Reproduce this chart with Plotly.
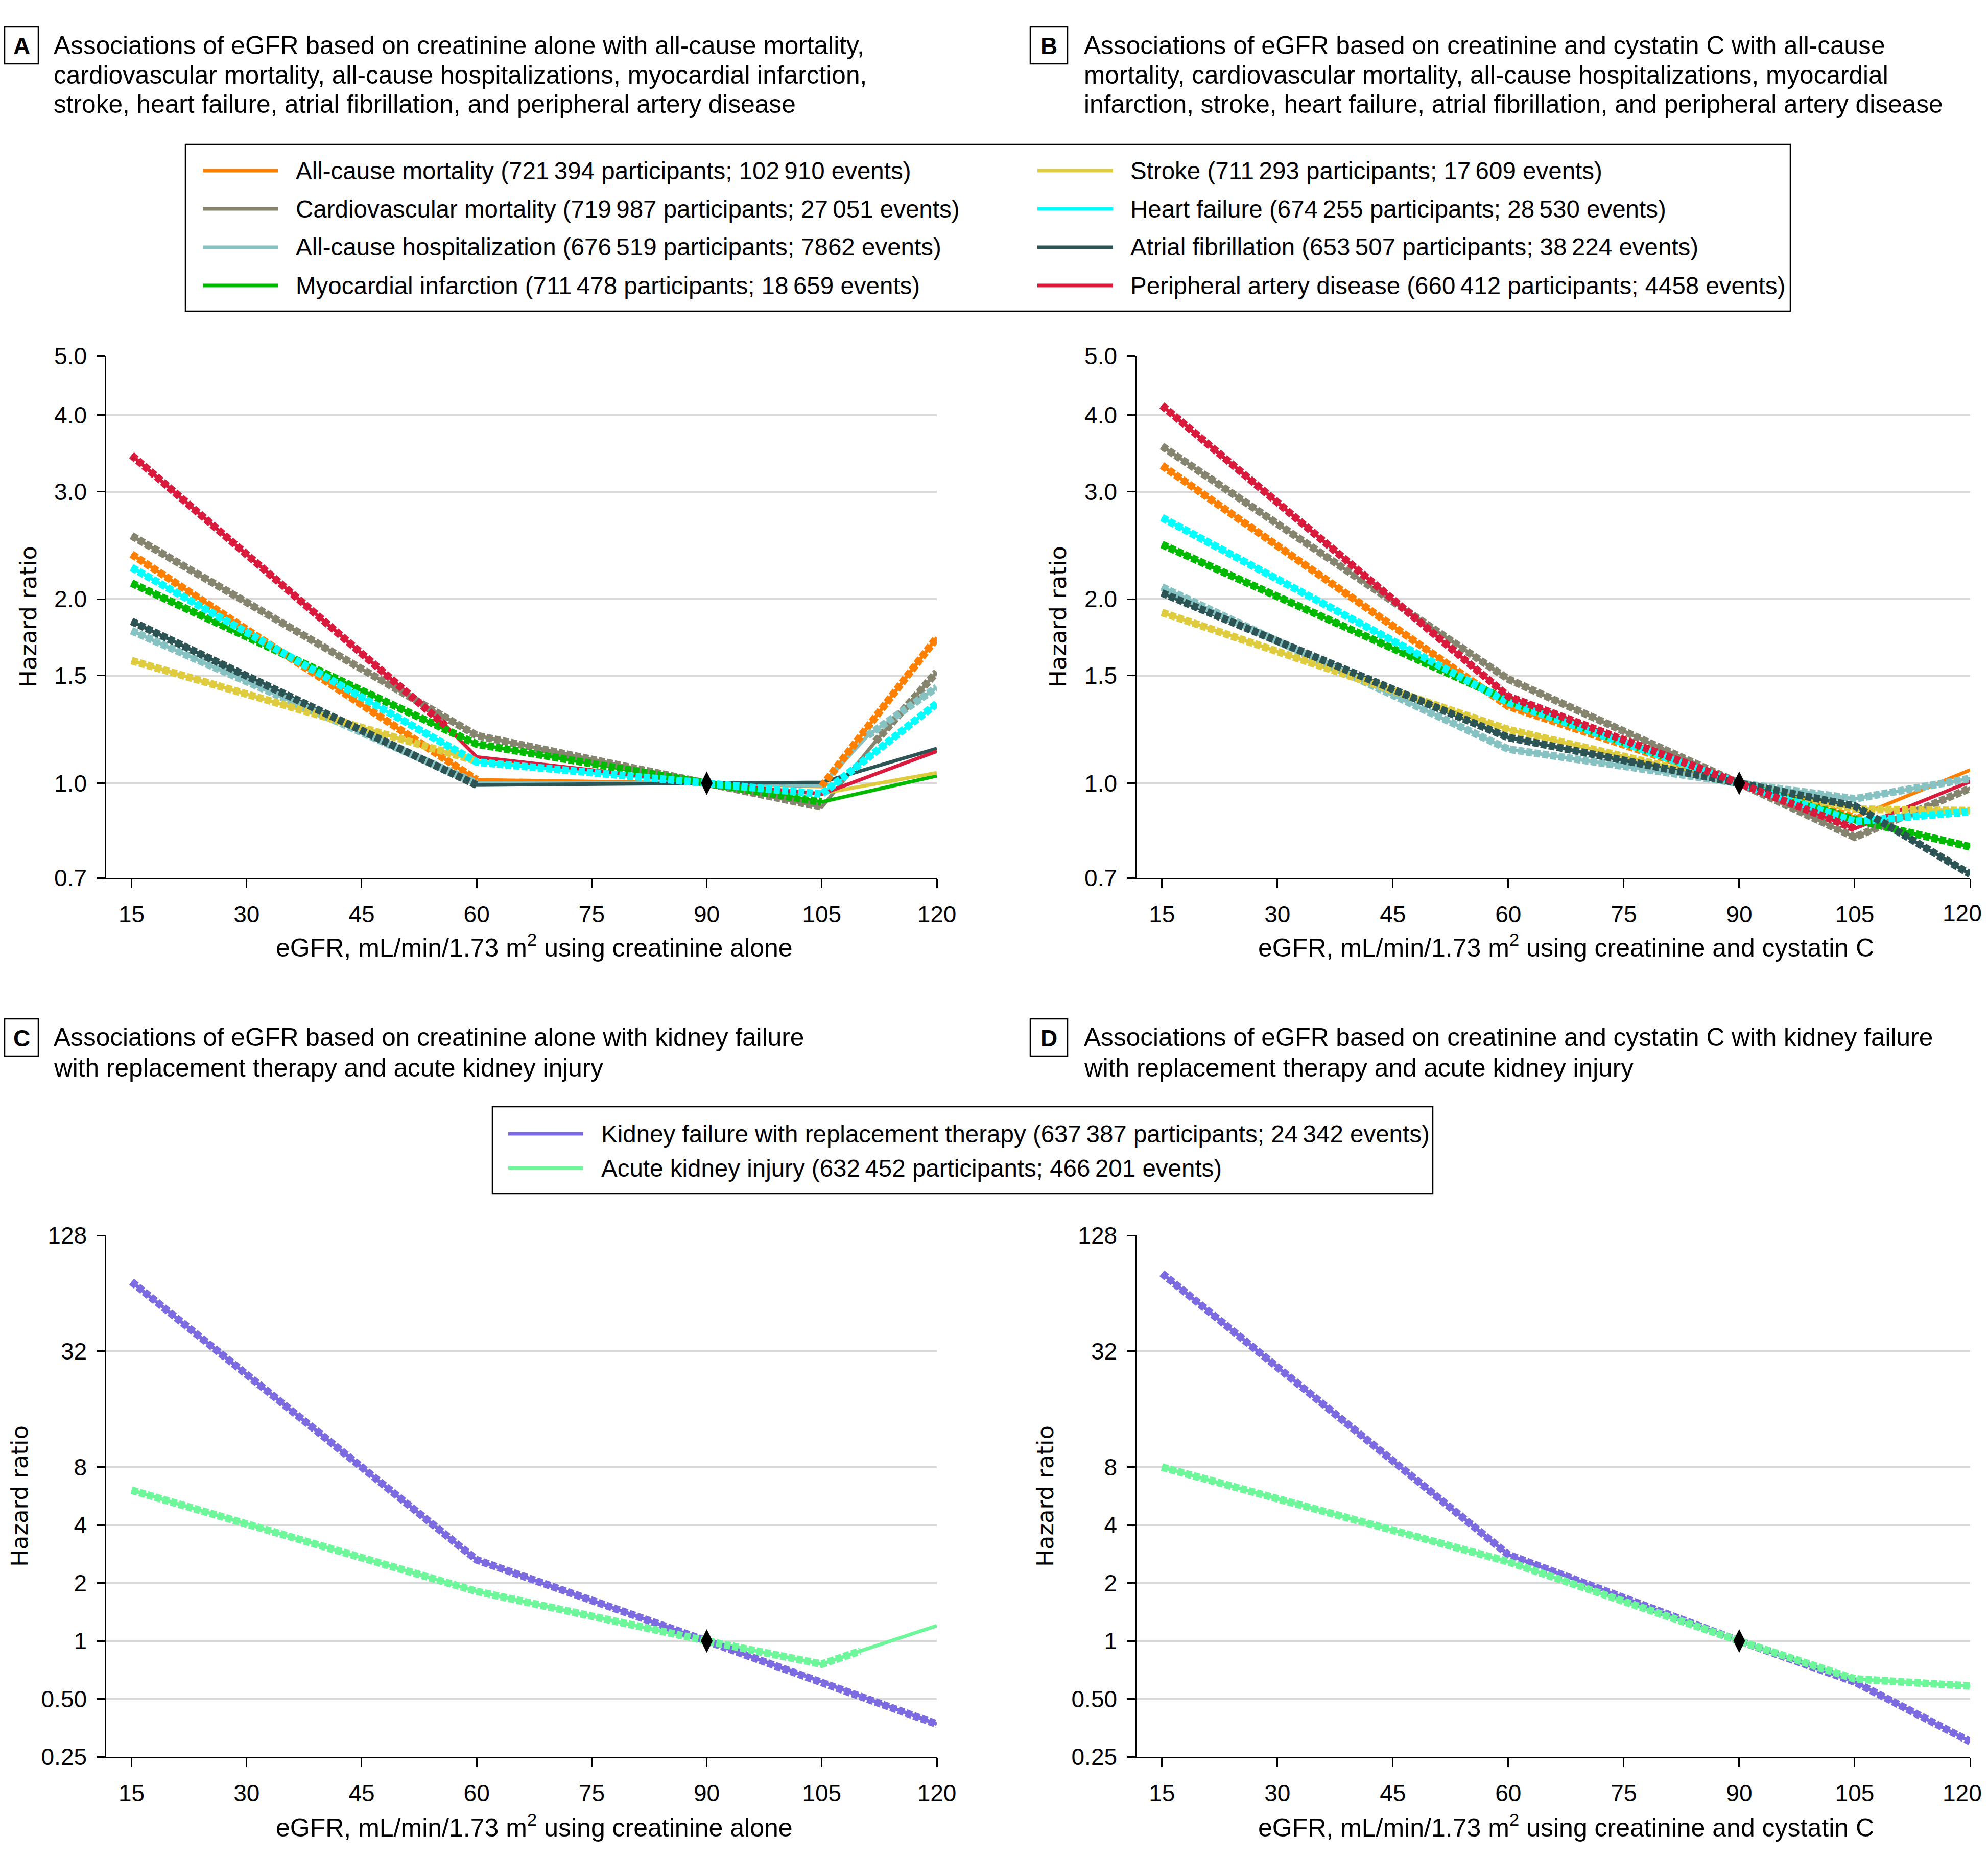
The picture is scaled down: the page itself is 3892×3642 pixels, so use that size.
import math
import plotly.graph_objects as go

# ---------------- data ----------------
EGFR_TICKS = [15, 30, 45, 60, 75, 90, 105, 120]
HR_TICKS_AB = [0.7, 1.0, 1.5, 2.0, 3.0, 4.0, 5.0]
HR_TICKTEXT_AB = ["0.7", "1.0", "1.5", "2.0", "3.0", "4.0", "5.0"]
HR_TICKS_CD = [0.25, 0.5, 1, 2, 4, 8, 32, 128]
HR_TICKTEXT_CD = ["0.25", "0.50", "1", "2", "4", "8", "32", "128"]

CV_OUTCOMES = ["All-cause mortality", "Cardiovascular mortality", "All-cause hospitalization",
               "Myocardial infarction", "Stroke", "Heart failure", "Atrial fibrillation",
               "Peripheral artery disease"]
CV_PARTICIPANTS = ["721\u2009394", "719\u2009987", "676\u2009519", "711\u2009478",
                   "711\u2009293", "674\u2009255", "653\u2009507", "660\u2009412"]
CV_EVENTS = ["102\u2009910", "27\u2009051", "7862", "18\u2009659",
             "17\u2009609", "28\u2009530", "38\u2009224", "4458"]
CV_COLORS = ["#FF8000", "#85856F", "#86C2C2", "#00BA00",
             "#DECB3E", "#00FFFF", "#2D5454", "#DA1A3C"]

KID_OUTCOMES = ["Kidney failure with replacement therapy", "Acute kidney injury"]
KID_PARTICIPANTS = ["637\u2009387", "632\u2009452"]
KID_EVENTS = ["24\u2009342", "466\u2009201"]
KID_COLORS = ["#7B6AE0", "#6EF79A"]

# Panel A: eGFR creatinine alone (x knots, hazard ratios, significance per segment)
A_ACM_X = [15, 60, 90, 105, 120]
A_ACM_Y = [2.37, 1.013, 1.0, 0.988, 1.73]
A_ACM_SIG = [1, 0, 0, 1]
A_CVM_X = [15, 60, 90, 105, 112, 120]
A_CVM_Y = [2.54, 1.197, 1.0, 0.914, 1.17, 1.52]
A_CVM_SIG = [1, 1, 1, 0, 1]
A_HOSP_X = [15, 60, 90, 105, 111, 120]
A_HOSP_Y = [1.776, 1.0, 1.0, 0.99, 1.197, 1.435]
A_HOSP_SIG = [1, 0, 0, 0, 1]
A_MI_X = [15, 60, 90, 105, 120]
A_MI_Y = [2.125, 1.159, 1.0, 0.932, 1.028]
A_MI_SIG = [1, 1, 1, 0]
A_STROKE_X = [15, 60, 90, 105, 120]
A_STROKE_Y = [1.587, 1.087, 1.0, 0.962, 1.04]
A_STROKE_SIG = [1, 0, 0, 0]
A_HF_X = [15, 60, 90, 105, 120]
A_HF_Y = [2.254, 1.083, 1.0, 0.96, 1.35]
A_HF_SIG = [1, 1, 1, 1]
A_AF_X = [15, 60, 90, 105, 120]
A_AF_Y = [1.84, 0.993, 1.0, 1.003, 1.14]
A_AF_SIG = [1, 0, 0, 0]
A_PAD_X = [15, 56, 60, 90, 105, 120]
A_PAD_Y = [3.44, 1.24, 1.104, 1.0, 0.96, 1.128]
A_PAD_SIG = [1, 0, 0, 0, 0]

# Panel B: eGFR creatinine + cystatin C
B_X = [15, 60, 90, 105, 120]
B_ACM_Y = [3.31, 1.336, 1.0, 0.879, 1.051]
B_ACM_SIG = [1, 1, 1, 0]
B_CVM_Y = [3.56, 1.48, 1.0, 0.816, 0.981]
B_CVM_SIG = [1, 1, 1, 1]
B_HOSP_Y = [2.094, 1.137, 1.0, 0.943, 1.018]
B_HOSP_SIG = [1, 1, 1, 1]
B_MI_Y = [2.458, 1.366, 1.0, 0.872, 0.787]
B_MI_SIG = [1, 1, 1, 1]
B_STROKE_Y = [1.903, 1.224, 1.0, 0.907, 0.902]
B_STROKE_SIG = [1, 1, 1, 1]
B_HF_Y = [2.72, 1.356, 1.0, 0.866, 0.898]
B_HF_SIG = [1, 1, 1, 1]
B_AF_Y = [2.048, 1.188, 1.0, 0.918, 0.71]
B_AF_SIG = [1, 1, 1, 1]
B_PAD_Y = [4.15, 1.387, 1.0, 0.843, 1.006]
B_PAD_SIG = [1, 1, 1, 0]

# Panel C: creatinine alone, kidney outcomes
C_KF_X = [15, 60, 90, 105, 120]
C_KF_Y = [73.5, 2.64, 1.0, 0.613, 0.37]
C_KF_SIG = [1, 1, 1, 1]
C_AKI_X = [15, 60, 90, 105, 110, 120]
C_AKI_Y = [6.07, 1.81, 1.0, 0.758, 0.886, 1.2]
C_AKI_SIG = [1, 1, 1, 1, 0]

# Panel D: creatinine + cystatin C, kidney outcomes
D_X = [15, 60, 90, 105, 120]
D_KF_Y = [81.3, 2.81, 1.0, 0.613, 0.30]
D_KF_SIG = [1, 1, 1, 1]
D_AKI_Y = [8.0, 2.58, 1.0, 0.635, 0.583]
D_AKI_SIG = [1, 1, 1, 1]

TITLE_A = ["Associations of eGFR based on creatinine alone with all-cause mortality,",
           "cardiovascular mortality, all-cause hospitalizations, myocardial infarction,",
           "stroke, heart failure, atrial fibrillation, and peripheral artery disease"]
TITLE_B = ["Associations of eGFR based on creatinine and cystatin C with all-cause",
           "mortality, cardiovascular mortality, all-cause hospitalizations, myocardial",
           "infarction, stroke, heart failure, atrial fibrillation, and peripheral artery disease"]
TITLE_C = ["Associations of eGFR based on creatinine alone with kidney failure",
           "with replacement therapy and acute kidney injury"]
TITLE_D = ["Associations of eGFR based on creatinine and cystatin C with kidney failure",
           "with replacement therapy and acute kidney injury"]
XTITLE_CR = "eGFR, mL/min/1.73 m<sup>2</sup> using creatinine alone"
XTITLE_CRCYS = "eGFR, mL/min/1.73 m<sup>2</sup> using creatinine and cystatin C"
YTITLE = "Hazard ratio"

# ---------------- layout helpers ----------------
W, H = 3876, 3626
OFF = 8
FONT = "Liberation Sans, Arial, sans-serif"
YFONT = "DejaVu Sans, Verdana, sans-serif"


def px(X):
    return (X - OFF) / W


def py(Y):
    return 1 - (Y - OFF) / H


fig = go.Figure()


def add_curve(xs, ys, sig, color, ax):
    xa, ya = ax
    fig.add_trace(go.Scatter(x=xs, y=ys, mode="lines", line=dict(color=color, width=7),
                             xaxis=xa, yaxis=ya, showlegend=False, hoverinfo="skip"))


def add_beads(xs, ys, sig, color, ax):
    xa, ya = ax
    bx, by = [], []
    prev = False
    for i, s in enumerate(sig):
        if s:
            if not prev:
                if bx:
                    bx.append(None)
                    by.append(None)
                bx.append(xs[i])
                by.append(ys[i])
            bx.append(xs[i + 1])
            by.append(ys[i + 1])
        prev = bool(s)
    if bx:
        fig.add_trace(go.Scatter(x=bx, y=by, mode="lines",
                                 line=dict(color=color, width=15, dash="12px,4px"),
                                 xaxis=xa, yaxis=ya, showlegend=False, hoverinfo="skip",
                                 connectgaps=False))


AX_A, AX_B, AX_C, AX_D = ("x", "y"), ("x2", "y2"), ("x3", "y3"), ("x4", "y4")

panel_a = [(A_ACM_X, A_ACM_Y, A_ACM_SIG), (A_CVM_X, A_CVM_Y, A_CVM_SIG),
           (A_HOSP_X, A_HOSP_Y, A_HOSP_SIG), (A_MI_X, A_MI_Y, A_MI_SIG),
           (A_STROKE_X, A_STROKE_Y, A_STROKE_SIG), (A_HF_X, A_HF_Y, A_HF_SIG),
           (A_AF_X, A_AF_Y, A_AF_SIG), (A_PAD_X, A_PAD_Y, A_PAD_SIG)]
panel_b = [(B_X, B_ACM_Y, B_ACM_SIG), (B_X, B_CVM_Y, B_CVM_SIG), (B_X, B_HOSP_Y, B_HOSP_SIG),
           (B_X, B_MI_Y, B_MI_SIG), (B_X, B_STROKE_Y, B_STROKE_SIG), (B_X, B_HF_Y, B_HF_SIG),
           (B_X, B_AF_Y, B_AF_SIG), (B_X, B_PAD_Y, B_PAD_SIG)]
panel_c = [(C_KF_X, C_KF_Y, C_KF_SIG), (C_AKI_X, C_AKI_Y, C_AKI_SIG)]
panel_d = [(D_X, D_KF_Y, D_KF_SIG), (D_X, D_AKI_Y, D_AKI_SIG)]

for series, colors, ax in [(panel_a, CV_COLORS, AX_A), (panel_b, CV_COLORS, AX_B),
                           (panel_c, KID_COLORS, AX_C), (panel_d, KID_COLORS, AX_D)]:
    for (xs, ys, sig), col in zip(series, colors):
        add_curve(xs, ys, sig, col, ax)
    for (xs, ys, sig), col in zip(series, colors):
        add_beads(xs, ys, sig, col, ax)
    fig.add_trace(go.Scatter(x=[90], y=[1.0], mode="markers",
                             marker=dict(symbol="diamond-tall", size=33, color="black"),
                             xaxis=ax[0], yaxis=ax[1], showlegend=False, hoverinfo="skip"))

# ---------------- axes ----------------
TICK_TEXT_FULL = [str(v) for v in EGFR_TICKS]
# right-hand panels: last label drawn as an annotation so it stays inside the page edge
TICK_TEXT_RIGHT = TICK_TEXT_FULL[:-1] + [""]

xcommon = dict(range=[11.7, 120], tickmode="array", tickvals=EGFR_TICKS,
               ticks="outside", ticklen=17, tickwidth=2.5, tickcolor="black",
               showline=True, linecolor="black", linewidth=2.5, showgrid=False,
               zeroline=False, tickfont=dict(family=FONT, size=46, color="black"),
               ticklabelstandoff=12, automargin=False, ticklabeloverflow="allow")
ycommon = dict(type="log", tickmode="array", ticks="outside", ticklen=16, tickwidth=2.5,
               tickcolor="black", showline=True, linecolor="black", linewidth=2.5,
               showgrid=True, gridcolor="#d9d9d9", gridwidth=4, zeroline=False,
               tickfont=dict(family=FONT, size=46, color="black"), ticklabelstandoff=10,
               automargin=False)

XA_L = [px(208), px(1834)]
XA_R = [px(2225), px(3857)]
YD_T = [py(1719), py(697)]
YD_B = [py(3440), py(2419)]

fig.update_layout(
    xaxis=dict(xcommon, domain=XA_L, anchor="y", ticktext=TICK_TEXT_FULL),
    xaxis2=dict(xcommon, domain=XA_R, anchor="y2", ticktext=TICK_TEXT_RIGHT),
    xaxis3=dict(xcommon, domain=XA_L, anchor="y3", ticktext=TICK_TEXT_FULL),
    xaxis4=dict(xcommon, domain=XA_R, anchor="y4", ticktext=TICK_TEXT_RIGHT),
    yaxis=dict(ycommon, domain=YD_T, anchor="x", range=[math.log10(0.7), math.log10(5.0)],
               tickvals=HR_TICKS_AB, ticktext=HR_TICKTEXT_AB),
    yaxis2=dict(ycommon, domain=YD_T, anchor="x2", range=[math.log10(0.7), math.log10(5.0)],
                tickvals=HR_TICKS_AB, ticktext=HR_TICKTEXT_AB),
    yaxis3=dict(ycommon, domain=YD_B, anchor="x3", range=[math.log10(0.25), math.log10(128)],
                tickvals=HR_TICKS_CD, ticktext=HR_TICKTEXT_CD),
    yaxis4=dict(ycommon, domain=YD_B, anchor="x4", range=[math.log10(0.25), math.log10(128)],
                tickvals=HR_TICKS_CD, ticktext=HR_TICKTEXT_CD),
)

# ---------------- annotations & shapes ----------------
ann = []
shapes = []


def text(X, Y, s, size=48, xanchor="left", family=FONT, angle=0, bold=False):
    ann.append(dict(x=px(X), y=py(Y), xref="paper", yref="paper", text=("<b>%s</b>" % s) if bold else s,
                    showarrow=False, xanchor=xanchor, yanchor="middle", textangle=angle,
                    font=dict(family=family, size=size, color="black")))


def rect(x0, y0, x1, y1, w=2.5):
    shapes.append(dict(type="rect", xref="paper", yref="paper", x0=px(x0), x1=px(x1),
                       y0=py(y1), y1=py(y0), line=dict(color="black", width=w),
                       fillcolor="rgba(0,0,0,0)"))


def hline(x0, x1, y, color, w=7):
    shapes.append(dict(type="line", xref="paper", yref="paper", x0=px(x0), x1=px(x1),
                       y0=py(y), y1=py(y), line=dict(color=color, width=w)))


# panel labels and titles
for letter, bx0, bx1, by0, by1, tx, lines, ys in [
        ("A", 9, 75, 52, 125, 103, TITLE_A, [89, 147, 204]),
        ("B", 2017, 2090, 52, 125, 2120, TITLE_B, [89, 147, 204]),
        ("C", 9, 75, 1995, 2068, 103, TITLE_C, [2031, 2091]),
        ("D", 2017, 2090, 1995, 2068, 2120, TITLE_D, [2031, 2091])]:
    rect(bx0, by0, bx1, by1)
    text((bx0 + bx1) / 2, (by0 + by1) / 2 + 1, letter, size=46, xanchor="center", bold=True)
    for ln, yy in zip(lines, ys):
        text(tx, yy, ln, size=49.6)

# legend 1 (cardiovascular outcomes)
rect(363, 282, 3505, 609)
rows = [334, 409, 484, 559]
for i in range(8):
    col = i // 4
    r = rows[i % 4]
    lx0, lx1, tx = (397, 544, 577) if col == 0 else (2031, 2179, 2211)
    hline(lx0, lx1, r, CV_COLORS[i])
    text(tx, r, "%s (%s participants; %s events)" % (CV_OUTCOMES[i], CV_PARTICIPANTS[i], CV_EVENTS[i]),
         size=47.5)

# legend 2 (kidney outcomes)
rect(964, 2167, 2805, 2337)
for i, r in enumerate([2220, 2287]):
    hline(995, 1142, r, KID_COLORS[i])
    text(1175, r, "%s (%s participants; %s events)" % (KID_OUTCOMES[i], KID_PARTICIPANTS[i], KID_EVENTS[i]),
         size=47.5)

# last x tick label of the right-hand panels, kept inside the page edge
text(W + OFF - 2, 1788, TICK_TEXT_FULL[-1], size=46, xanchor="right")
text(W + OFF - 2, 3511, TICK_TEXT_FULL[-1], size=46, xanchor="right")

# axis titles
text(1046, 1852, XTITLE_CR, size=50, xanchor="center")
text(3066, 1852, XTITLE_CRCYS, size=50, xanchor="center")
text(1046, 3575, XTITLE_CR, size=50, xanchor="center")
text(3066, 3575, XTITLE_CRCYS, size=50, xanchor="center")
text(56, 1208, YTITLE, size=45, xanchor="center", family=YFONT, angle=-90)
text(2072, 1208, YTITLE, size=45, xanchor="center", family=YFONT, angle=-90)
text(38, 2930, YTITLE, size=45, xanchor="center", family=YFONT, angle=-90)
text(2046, 2930, YTITLE, size=45, xanchor="center", family=YFONT, angle=-90)

fig.update_layout(
    width=W, height=H, margin=dict(l=0, r=0, t=0, b=0, autoexpand=False),
    paper_bgcolor="white", plot_bgcolor="white",
    showlegend=False, annotations=ann, shapes=shapes,
    font=dict(family=FONT, color="black"),
)

fig.write_html("out.html")
